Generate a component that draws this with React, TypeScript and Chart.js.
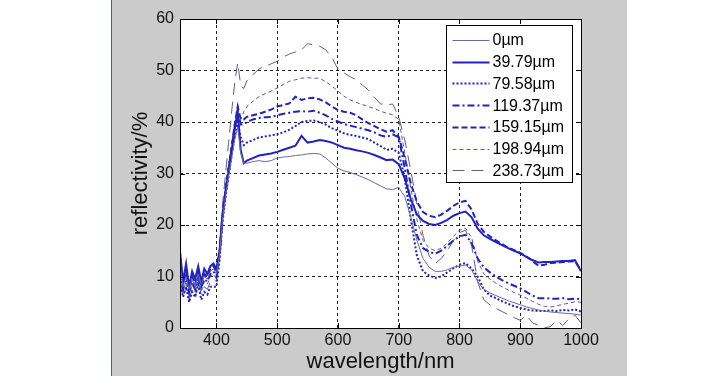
import React, { useEffect, useRef } from "react";
import { Chart, registerables } from "chart.js";
Chart.register(...registerables);

const wavelengths = [340,345,350,355,360,365,370,375,380,385,390,395,400,405,410,415,420,425,430,435,440,445,450,460,470,480,490,500,510,520,530,540,550,560,570,580,590,600,610,620,630,640,650,660,670,680,690,700,710,720,730,740,750,760,770,780,790,800,810,820,830,840,850,860,870,880,890,900,910,920,930,940,950,960,970,980,990,1000];

const seriesLabels = ["0µm", "39.79µm", "79.58µm", "119.37µm", "159.15µm", "198.94µm", "238.73µm"];

const s0um = [12,8,10,7.5,9.5,8,10.5,8.5,10,9.5,11,11.5,10.5,14,21,25.5,29.5,33,36.5,39,34,32,32,
  32.3,32.5,32.3,32.5,33,33.2,33.3,33.5,33.6,33.8,33.9,33.8,33,32,31,30.5,30.2,29.8,29.3,28.8,28.2,27.6,27,26.9,27.3,
  25.5,21.5,17,13.5,11.8,11,11,11.3,11.8,12,12.2,11.3,9,7.5,6.8,6.3,5.8,5.3,4.9,4.5,4.1,3.8,3.5,3.3,3.1,3,2.9,2.8,2.7,2.5];
const s39um = [15,9,12.5,8,11,9.5,12,9,11.5,10.5,12,12.5,11.5,15,22,26.5,30.5,34.5,38.5,42,34.5,32,32.5,
  33,33.5,33.7,33.9,34.2,34.6,35,35.4,37.3,36,36.2,36.5,36.3,36,35.5,35,34.8,34.5,34.3,34,33.6,33.1,32.6,32.7,31.8,
  29,25,22,20.8,20.2,20,20.4,21,21.8,22.3,22.6,21.5,19.3,18,17.3,16.7,16.1,15.5,15,14.5,13.8,13.2,12.7,12.8,12.8,12.9,13,13,13.2,11];
const s79um = [9,6,8,5,7,6,8.5,5.5,7,6.5,8,8,8,13,20.5,25.5,29.5,33.5,37.5,40,37,35.5,36,
  36.5,37,37.2,37.4,37.6,38,38.5,39.2,40,40.2,40.3,40,39.5,38.8,38.3,37.8,37.5,37.3,37,36.7,36,35.3,34.6,34.8,34,
  29,21,14,11,10.2,9.7,10,10.8,11.6,12.3,12.6,11.5,10,7.5,6.3,5.8,5.2,4.7,4.2,3.9,3.6,3.4,3.3,3.3,3.4,3.3,3.5,3.4,3.6,3.2];
const s119um = [11,7.5,10,7,9,7.5,10,8,9.5,9,10.5,11,10,14,21.5,26,30,34.5,39,42.5,39.5,39.5,40,
  40.5,40.8,40.9,41,41.3,41.6,41.8,42,42.1,42,42.2,41.8,41.3,40.6,40.1,39.6,39.3,39,38.7,38.4,38,37.4,37.1,37.6,37,
  31,24,18,15.5,14.8,14.4,15,16,17,17.8,18.1,16.5,13.5,11.8,10.8,10,9.3,8.7,8.2,7.7,7,6.3,5.8,5.8,5.7,5.7,5.8,5.6,5.7,5.6];
const s159um = [13,8.5,11,7,10,8.5,11.5,8,10.5,10,11.5,12,11,14.5,22,27,31,35,39.5,43,40.5,40.5,41,
  41.3,41.6,42,42.4,43,43.3,43.6,44.9,44.3,44.6,44.7,44.4,43.8,43,42.3,42,41.8,41.3,40.5,39.8,39.2,38.6,38.1,38.4,37.1,
  33,28,24.5,22.5,21.8,21.5,22,22.8,23.7,24.4,24.7,23,20.2,18.7,17.8,17,16.3,15.6,15.1,14.6,13.9,13,12.1,12.3,12.6,12.7,12.8,12.9,13,11.2];
const s198um = [10,7,9,6,8.5,7,9.5,7,9,8.5,10,10.5,9.5,14,22,27.5,32,36,39.5,41.5,40.5,42,43,
  44,44.9,45.5,46,46.6,47.3,47.9,48.2,48.5,48.6,48.5,48.5,47.8,47,46,45,44.3,43.8,43.4,43,42.6,42.1,41.7,41.4,40.5,
  34,27,21,17,15.5,15,15.5,16.5,17.8,19,19.4,17.5,13,10.5,9.5,8.7,8,7.4,6.9,6.4,5.8,5.2,4.6,4.2,4.1,4.3,4.6,4.8,5.1,5];
const s238um = [9,6,8,5.5,7.5,6,9,6.5,8,7.5,9,9.5,9,15,24,30,36,42,47.5,51.5,47,46.5,48,
  49.2,50.3,50.8,51.3,51.8,52.6,53.2,53.6,54,55.2,55,54.7,54,52.5,50.3,49.5,48.8,48.2,47.2,46.2,44.8,43.5,43.3,43.5,41,
  36.5,30.5,24,18,14,12.5,13.5,15,17,18.5,19,16,9,5.5,4.5,3.8,3.2,2.6,2,1.5,2.5,1,0.5,0,0.3,1.5,0.5,1.8,2.5,1];

const xTicks = [400, 500, 600, 700, 800, 900, 1000];
const yTicks = [0, 10, 20, 30, 40, 50, 60];

const FONT = "'Liberation Sans', Arial, Helvetica, sans-serif";

export default function App() {
  const ref = useRef<HTMLCanvasElement>(null);

  useEffect(() => {
    document.body.style.margin = "0";
    const values = [s0um, s39um, s79um, s119um, s159um, s198um, s238um];
    const styles = [
      { color: "#6a6aa0", width: 1, dash: [] as number[] },
      { color: "#2222c0", width: 2, dash: [] as number[] },
      { color: "#2222c0", width: 2, dash: [2, 2] },
      { color: "#2222c0", width: 2, dash: [7, 3, 2, 3] },
      { color: "#2222c0", width: 2, dash: [6, 3] },
      { color: "#5a5aa0", width: 1, dash: [4, 3] },
      { color: "#5e5e8c", width: 1, dash: [12, 7] },
    ];

    const frame = {
      id: "frame",
      beforeDraw(c: any) {
        const { ctx, chartArea: a } = c;
        ctx.save();
        ctx.fillStyle = "#ffffff";
        ctx.fillRect(a.left, a.top, a.right - a.left, a.bottom - a.top);
        ctx.restore();
      },
      afterDraw(c: any) {
        const { ctx, chartArea: a } = c;
        const xs = c.scales.x;
        const ys = c.scales.y;
        ctx.save();
        ctx.strokeStyle = "#000";
        ctx.lineWidth = 1;
        ctx.setLineDash([]);
        ctx.strokeRect(Math.round(a.left) + 0.5, Math.round(a.top) + 0.5, Math.round(a.right - a.left), Math.round(a.bottom - a.top));
        ctx.beginPath();
        xTicks.forEach((v) => {
          const p = Math.round(xs.getPixelForValue(v)) + 0.5;
          ctx.moveTo(p, a.bottom); ctx.lineTo(p, a.bottom - 5);
          ctx.moveTo(p, a.top); ctx.lineTo(p, a.top + 5);
        });
        yTicks.forEach((v) => {
          const p = Math.round(ys.getPixelForValue(v)) + 0.5;
          ctx.moveTo(a.left, p); ctx.lineTo(a.left + 5, p);
          ctx.moveTo(a.right, p); ctx.lineTo(a.right - 5, p);
        });
        ctx.stroke();

        // legend
        const w = 126, h = 157;
        const lx = Math.round(a.right - 9 - w) + 0.5;
        const ly = Math.round(a.top + 6) + 0.5;
        ctx.fillStyle = "#fff";
        ctx.fillRect(lx, ly, w, h);
        ctx.strokeStyle = "#000";
        ctx.strokeRect(lx, ly, w, h);
        ctx.font = `16px ${FONT}`;
        ctx.textBaseline = "middle";
        ctx.textAlign = "left";
        seriesLabels.forEach((lab, i) => {
          const y = ly + 14.5 + i * 21.7;
          const st = styles[i];
          ctx.beginPath();
          ctx.strokeStyle = st.color;
          ctx.lineWidth = st.width;
          ctx.setLineDash(st.dash);
          ctx.moveTo(lx + 6, Math.round(y) + 0.5);
          ctx.lineTo(lx + 43, Math.round(y) + 0.5);
          ctx.stroke();
          ctx.setLineDash([]);
          ctx.fillStyle = "#000";
          ctx.fillText(lab, lx + 46, y + 1);
        });
        ctx.restore();
      },
    };

    const chart = new Chart(ref.current as HTMLCanvasElement, {
      type: "line",
      data: {
        labels: wavelengths,
        datasets: values.map((vals, i) => ({
          label: seriesLabels[i],
          data: vals.map((v, k) => ({ x: wavelengths[k], y: v })),
          borderColor: styles[i].color,
          borderWidth: styles[i].width,
          borderDash: styles[i].dash,
          pointRadius: 0,
          tension: 0,
          fill: false,
        })),
      },
      options: {
        animation: false,
        responsive: false,
        devicePixelRatio: 1,
        layout: { padding: { left: 0, right: 46, top: 19, bottom: 0 } },
        plugins: { legend: { display: false }, tooltip: { enabled: false } },
        scales: {
          x: {
            type: "linear",
            min: 340,
            max: 1000,
            afterBuildTicks: (s: any) => { s.ticks = xTicks.map((v) => ({ value: v })); },
            afterFit: (s: any) => { s.height = 48; },
            ticks: { font: { family: FONT, size: 16 }, color: "#111", padding: 3, maxRotation: 0, autoSkip: false, callback: (v: any) => String(v) },
            grid: { drawTicks: false, color: (ctx: any) => (ctx.tick && ctx.tick.value === 1000 ? "rgba(0,0,0,0)" : "#222"), lineWidth: 1 },
            border: { display: false, dash: [3, 3] },
            title: { display: true, text: "wavelength/nm", font: { family: FONT, size: 22 }, color: "#111", padding: { top: 0, bottom: 1 } },
          },
          y: {
            type: "linear",
            min: 0,
            max: 60,
            afterBuildTicks: (s: any) => { s.ticks = yTicks.map((v) => ({ value: v })); },
            afterFit: (s: any) => { s.width = 68; },
            ticks: { font: { family: FONT, size: 16 }, color: "#111", padding: 6, callback: (v: any) => String(v) },
            grid: { drawTicks: false, color: (ctx: any) => (ctx.tick && (ctx.tick.value === 0 || ctx.tick.value === 60) ? "rgba(0,0,0,0)" : "#222"), lineWidth: 1 },
            border: { display: false, dash: [3, 3] },
            title: { display: true, text: "reflectivity/%", font: { family: FONT, size: 22 }, color: "#111", padding: { top: 16, bottom: 0 } },
          },
        },
      },
      plugins: [frame],
    });
    return () => chart.destroy();
  }, []);

  return (
    <div style={{ position: "relative", width: 717, height: 387, background: "#fff", overflow: "hidden" }}>
      <div style={{ position: "absolute", left: 112, top: 0, width: 515, height: 376, background: "#cbcbcb" }} />
      <div style={{ position: "absolute", left: 111, top: 0, width: 1, height: 376, background: "#56606a" }} />
      <canvas ref={ref} width={515} height={376} style={{ position: "absolute", left: 112, top: 0, width: 515, height: 376 }} />
    </div>
  );
}
